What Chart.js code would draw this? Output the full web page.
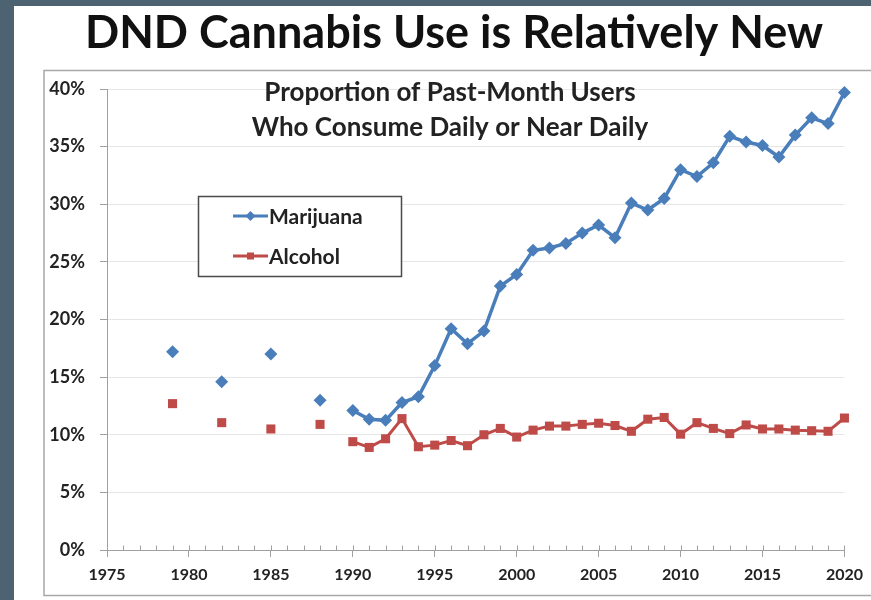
<!DOCTYPE html>
<html>
<head>
<meta charset="utf-8">
<title>DND Cannabis Use is Relatively New</title>
<script src="https://cdn.jsdelivr.net/npm/chart.js@4.4.0/dist/chart.umd.min.js"></script>
<style>
  html, body { margin: 0; padding: 0; background: #4e6371; }
  #wrap { position: absolute; left: 0; top: 0; width: 871px; height: 600px; }
</style>
</head>
<body>
<div id="wrap"><canvas id="useChart" width="871" height="600"></canvas></div>
<script>
// survey years (gaps before 1990 are not joined)
var years = [1979, 1982, 1985, 1988,
  1990, 1991, 1992, 1993, 1994, 1995, 1996, 1997, 1998, 1999,
  2000, 2001, 2002, 2003, 2004, 2005, 2006, 2007, 2008, 2009,
  2010, 2011, 2012, 2013, 2014, 2015, 2016, 2017, 2018, 2019, 2020];

// % of past-month users using daily or near daily
var marijuana = [17.2, 14.6, 17.0, 13.0,
  12.1, 11.35, 11.25, 12.8, 13.3, 16.0, 19.2, 17.9, 19.0, 22.9,
  23.9, 26.0, 26.2, 26.6, 27.5, 28.2, 27.1, 30.1, 29.5, 30.5,
  33.0, 32.4, 33.6, 35.9, 35.4, 35.1, 34.1, 36.0, 37.5, 37.0, 39.7];

var alcohol = [12.7, 11.05, 10.5, 10.9,
  9.4, 8.9, 9.65, 11.4, 8.96, 9.1, 9.5, 9.05, 10.0, 10.55,
  9.8, 10.4, 10.75, 10.75, 10.9, 11.0, 10.8, 10.3, 11.35, 11.5,
  10.05, 11.05, 10.55, 10.1, 10.85, 10.5, 10.5, 10.4, 10.35, 10.3, 11.45];

var seriesNames = ['Marijuana', 'Alcohol'];
var yTicks = [0, 5, 10, 15, 20, 25, 30, 35, 40];

var mainTitle = 'DND Cannabis Use is Relatively New';
var subTitle = ['Proportion of Past-Month Users', 'Who Consume Daily or Near Daily'];

var BLUE = '#4a7ebb';
var RED = '#be4b48';
var FONT = 'Lato, "Open Sans", sans-serif';

function toPoints(vals) {
    return years.map(function (y, i) { return { x: y, y: vals[i] }; });
}

// only connect the annual run from 1990 on
function segColor(color) {
    return function (ctx) {
        return ctx.p0.parsed.x < 1990 ? 'rgba(0,0,0,0)' : color;
    };
}

var decorPlugin = {
    id: 'decor',
    beforeDraw: function (chart) {
        var c = chart.ctx;
        c.save();
        c.fillStyle = '#4e6371';
        c.fillRect(0, 0, chart.width, chart.height);
        c.fillStyle = '#ffffff';
        c.fillRect(14, 6, chart.width - 14, chart.height - 6);
        // chart frame
        c.strokeStyle = '#a8a8a8';
        c.lineWidth = 1.5;
        c.strokeRect(44, 70.5, 900, 525);
        c.fillStyle = '#111';
        c.textAlign = 'center';
        c.textBaseline = 'middle';
        c.font = 'bold 45px ' + FONT;
        c.fillText(mainTitle, 454, 33);
        c.restore();
    },
    afterDatasetsDraw: function (chart) {
        var c = chart.ctx;
        var xs = chart.scales.x;
        var base = chart.chartArea.bottom;
        c.save();
        // small inner tick marks for every year
        c.strokeStyle = '#a0a0a0';
        c.lineWidth = 1;
        for (var yr = 1976; yr <= 2020; yr++) {
            var px = Math.round(xs.getPixelForValue(yr)) + 0.5;
            c.beginPath();
            c.moveTo(px, base);
            c.lineTo(px, base - 4.5);
            c.stroke();
        }
        // inner heading
        c.fillStyle = '#222';
        c.textAlign = 'center';
        c.textBaseline = 'middle';
        c.font = 'bold 26px ' + FONT;
        c.fillText(subTitle[0], 450, 93);
        c.fillText(subTitle[1], 450, 128);

        // legend box
        c.fillStyle = '#ffffff';
        c.fillRect(198, 196, 204, 81);
        c.strokeStyle = '#4a4a4a';
        c.lineWidth = 1.5;
        c.strokeRect(198.5, 196.5, 203, 80);
        var rows = [
            { name: seriesNames[0], color: BLUE, y: 216, shape: 'diamond' },
            { name: seriesNames[1], color: RED, y: 256, shape: 'square' }
        ];
        rows.forEach(function (r) {
            c.strokeStyle = r.color;
            c.lineWidth = 3;
            c.beginPath();
            c.moveTo(233, r.y);
            c.lineTo(268, r.y);
            c.stroke();
            c.fillStyle = r.color;
            c.beginPath();
            if (r.shape === 'diamond') {
                c.moveTo(250.5, r.y - 5);
                c.lineTo(255.5, r.y);
                c.lineTo(250.5, r.y + 5);
                c.lineTo(245.5, r.y);
            } else {
                c.rect(247, r.y - 3.5, 7, 7);
            }
            c.fill();
            c.fillStyle = '#222';
            c.textAlign = 'left';
            c.font = 'bold 21px ' + FONT;
            c.fillText(r.name, 269, r.y + 1);
        });
        c.restore();
    }
};

var ctx = document.getElementById('useChart');
var myChart = new Chart(ctx, {
    type: 'line',
    data: {
        datasets: [
            {
                label: seriesNames[0],
                data: toPoints(marijuana),
                borderColor: BLUE,
                backgroundColor: BLUE,
                borderWidth: 3.5,
                pointStyle: 'rectRot',
                pointRadius: 6.5,
                pointBorderWidth: 0,
                tension: 0,
                clip: false,
                segment: { borderColor: segColor(BLUE) }
            },
            {
                label: seriesNames[1],
                data: toPoints(alcohol),
                borderColor: RED,
                backgroundColor: RED,
                borderWidth: 3,
                pointStyle: 'rect',
                pointRadius: 6.4,
                pointBorderWidth: 0,
                tension: 0,
                clip: false,
                segment: { borderColor: segColor(RED) }
            }
        ]
    },
    options: {
        responsive: false,
        animation: false,
        layout: { padding: { left: 47, right: 26, top: 89, bottom: 12 } },
        plugins: {
            legend: { display: false },
            title: { display: false },
            tooltip: { enabled: false }
        },
        scales: {
            x: {
                type: 'linear',
                min: 1975,
                max: 2020,
                afterFit: function (scale) { scale.height = 38; },
                border: { color: '#a0a0a0', width: 1 },
                grid: {
                    drawOnChartArea: false,
                    drawTicks: true,
                    tickLength: 7,
                    tickColor: function (c) {
                        return c.tick && c.tick.value % 5 === 0 ? '#a0a0a0' : 'rgba(0,0,0,0)';
                    }
                },
                ticks: {
                    stepSize: 1,
                    autoSkip: false,
                    maxRotation: 0,
                    padding: 8,
                    color: '#222',
                    font: { family: FONT, size: 16, weight: 'bold' },
                    callback: function (v) { return v % 5 === 0 ? String(v) : ''; }
                }
            },
            y: {
                min: 0,
                max: 40,
                afterFit: function (scale) { scale.width = 60; },
                afterBuildTicks: function (scale) {
                    scale.ticks = yTicks.map(function (v) { return { value: v }; });
                },
                border: { color: '#a0a0a0', width: 1 },
                grid: {
                    color: '#e6e6e6',
                    tickColor: '#a0a0a0',
                    drawTicks: true,
                    tickLength: 7
                },
                ticks: {
                    padding: 15,
                    color: '#222',
                    font: { family: FONT, size: 18, weight: 'bold' },
                    callback: function (v) { return v + '%'; }
                }
            }
        }
    },
    plugins: [decorPlugin]
});
</script>
</body>
</html>
